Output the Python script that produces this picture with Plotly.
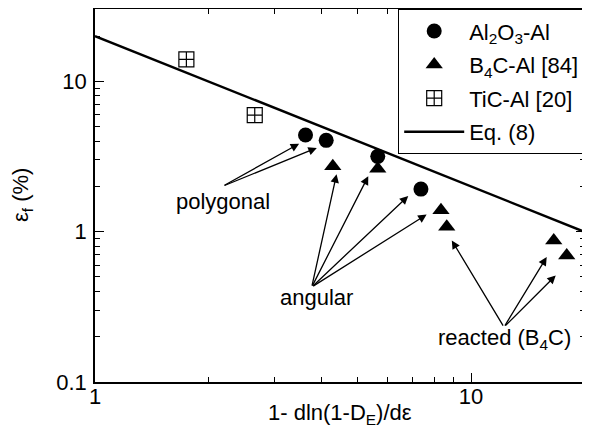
import numpy as np
import plotly.graph_objects as go

# Data
al2o3_x = [3.63, 4.12, 5.65, 7.36]
al2o3_y = [4.40, 4.05, 3.17, 1.92]

b4c_x = [4.29, 5.65, 8.32, 8.62, 16.6, 17.97]
b4c_y = [2.72, 2.62, 1.39, 1.08, 0.875, 0.695]

tic_x = [1.75, 2.66]
tic_y = [14.0, 5.97]

eq8_x = [1.0, 20.0]
eq8_y = [20.0, 1.0]

# annotation groups: label, label position, arrow tail, arrow heads
labels = ["polygonal", "angular", "reacted (B<sub>4</sub>C)"]
label_x = [2.19, 3.89, 12.24]
label_y = [1.60, 0.363, 0.193]
tail_x = [2.19, 3.77, 12.24]
tail_y = [2.01, 0.428, 0.232]
heads_x = [[3.49, 3.89], [4.39, 5.33, 6.81, 7.62], [8.89, 15.9, 16.8]]
heads_y = [[3.85, 3.61], [2.41, 2.34, 1.73, 1.30], [0.875, 0.678, 0.512]]

FONT = "Liberation Sans, Arial, Helvetica, sans-serif"

fig = go.Figure()
fig.add_trace(go.Scatter(x=al2o3_x, y=al2o3_y, mode="markers", name="Al<sub>2</sub>O<sub>3</sub>-Al",
                         legendgroup="a", marker=dict(symbol="circle", size=15, color="black")))
fig.add_trace(go.Scatter(x=b4c_x, y=b4c_y, mode="markers", name="B<sub>4</sub>C-Al [84]",
                         legendgroup="b", marker=dict(symbol="triangle-up", size=15, color="black")))
fig.add_trace(go.Scatter(x=tic_x, y=tic_y, mode="markers", name="TiC-Al [20]",
                         legendgroup="c", marker=dict(symbol="square-cross-open", size=15, color="black",
                                                      line=dict(width=1.2, color="black"))))
fig.add_trace(go.Scatter(x=eq8_x, y=eq8_y, mode="lines", name="Eq. (8)",
                         legendgroup="d", line=dict(color="black", width=2.5)))

anns = []
for i, lab in enumerate(labels):
    anns.append(dict(x=np.log10(label_x[i]), y=np.log10(label_y[i]), xref="x", yref="y",
                     text=lab, showarrow=False, font=dict(size=22, color="black", family=FONT)))
    for hx, hy in zip(heads_x[i], heads_y[i]):
        anns.append(dict(x=np.log10(hx), y=np.log10(hy), xref="x", yref="y",
                         ax=np.log10(tail_x[i]), ay=np.log10(tail_y[i]), axref="x", ayref="y",
                         text="", showarrow=True, arrowhead=2, arrowsize=1.3, arrowwidth=1.3,
                         arrowcolor="black", standoff=0, startstandoff=0))

# axis titles placed as paper annotations
anns.append(dict(x=0.5, y=-0.086, xref="paper", yref="paper", xanchor="center", yanchor="middle",
                 text="1- dln(1-D<sub>E</sub>)/dε", showarrow=False, font=dict(size=22, family=FONT)))
anns.append(dict(x=-0.15, y=0.5, xref="paper", yref="paper", xanchor="center", yanchor="middle",
                 text="ε<sub>f</sub> (%)", textangle=-90, showarrow=False, font=dict(size=22, family=FONT)))

xminor = [2, 3, 4, 5, 6, 7, 8, 9, 20]
yminor = [0.2, 0.3, 0.4, 0.5, 0.6, 0.7, 0.8, 0.9, 2, 3, 4, 5, 6, 7, 8, 9, 20, 30]

fig.update_layout(
    width=582, height=426,
    margin=dict(l=87, r=5, t=1, b=52),
    paper_bgcolor="white", plot_bgcolor="white",
    font=dict(family=FONT, size=22, color="black"),
    showlegend=True,
    legend=dict(x=1, y=1, xanchor="right", yanchor="top", bordercolor="black", borderwidth=1.2,
                bgcolor="white", font=dict(size=22), tracegroupgap=2, itemwidth=60),
    annotations=anns,
    xaxis=dict(type="log", range=[0, np.log10(20.1)], showgrid=False, zeroline=False, automargin=False,
               showline=True, linecolor="black", linewidth=1.5, mirror="ticks",
               ticks="inside", ticklen=9, tickwidth=1.2, tickcolor="black",
               tickvals=[1, 10], ticktext=["1", "10"], ticklabelstandoff=-6,
               minor=dict(tickvals=xminor, ticks="inside", ticklen=5, tickwidth=1.2, tickcolor="black", showgrid=False)),
    yaxis=dict(type="log", range=[-1, np.log10(30.3)], showgrid=False, zeroline=False, automargin=False,
               showline=True, linecolor="black", linewidth=1.5, mirror="ticks",
               ticks="inside", ticklen=9, tickwidth=1.2, tickcolor="black",
               tickvals=[0.1, 1, 10], ticktext=["0.1", "1", "10"], ticklabelstandoff=2,
               minor=dict(tickvals=yminor, ticks="inside", ticklen=5, tickwidth=1.2, tickcolor="black", showgrid=False)),
)

fig.write_html("out.html")
